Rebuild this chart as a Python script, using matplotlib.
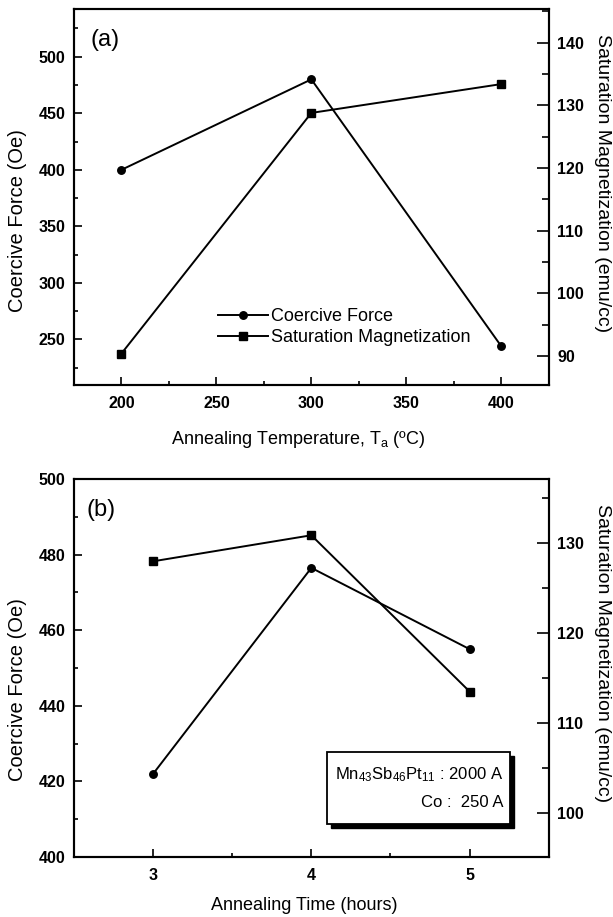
import matplotlib
matplotlib.use('Agg')
import matplotlib.pyplot as plt
from matplotlib.ticker import MultipleLocator
from matplotlib.lines import Line2D
from matplotlib.patches import Rectangle

plt.rcParams['font.family'] = ['Liberation Sans', 'DejaVu Sans']
plt.rcParams['mathtext.fontset'] = 'custom'
plt.rcParams['mathtext.rm'] = 'Liberation Sans'
plt.rcParams['mathtext.it'] = 'Liberation Sans'

# (a) annealing temperature series
temp = [200, 300, 400]
hc_temp = [400, 480, 244]
ms_temp = [90.4, 128.8, 133.4]

# (b) annealing time series
hours = [3, 4, 5]
hc_time = [422, 476.5, 455]
ms_time = [128, 130.9, 113.5]

LW = 1.4
MS = 5.4


def style_axes(ax, ax2):
    for a in (ax, ax2):
        for s in a.spines.values():
            s.set_linewidth(1.5)
    ax.tick_params(axis='both', which='both', direction='in', top=False, right=False,
                   labelsize=11.5, width=1.2, pad=6)
    ax.tick_params(which='major', length=6)
    ax.tick_params(which='minor', length=3)
    ax.tick_params(axis='x', pad=8)
    ax2.tick_params(axis='y', which='both', direction='in', labelsize=11.5, width=1.2, pad=6)
    ax2.tick_params(axis='y', which='major', length=9)
    ax2.tick_params(axis='y', which='minor', length=5)
    for lab in ax.get_xticklabels() + ax.get_yticklabels() + ax2.get_yticklabels():
        lab.set_fontweight('bold')


fig = plt.figure(figsize=(6.13, 9.17), dpi=100)

# ---- panel (a)
ax = fig.add_axes([0.1207, 0.5801, 0.7744, 0.4104])
ax2 = ax.twinx()
ax.plot(temp, hc_temp, 'k-', marker='o', lw=LW, ms=MS)
ax2.plot(temp, ms_temp, 'k-', marker='s', lw=LW, ms=MS)
ax.set_xlim(175, 425)
ax.set_ylim(209.6, 542.5)
ax2.set_ylim(85.37, 145.43)
ax.set_xticks([200, 250, 300, 350, 400])
ax.xaxis.set_minor_locator(MultipleLocator(25))
ax.set_yticks([250, 300, 350, 400, 450, 500])
ax.yaxis.set_minor_locator(MultipleLocator(25))
ax2.set_yticks([90, 100, 110, 120, 130, 140])
ax2.yaxis.set_minor_locator(MultipleLocator(5))
style_axes(ax, ax2)

ax.set_xlabel('Annealing Temperature, T$_{\\mathregular{a}}$ (ºC)', fontsize=13, va='center')
ax.xaxis.set_label_coords(0.473, -0.146)
ax.set_ylabel('Coercive Force (Oe)', fontsize=14.5, va='center', ha='center')
ax.yaxis.set_label_coords(-0.120, 0.437)
ax2.set_ylabel('Saturation Magnetization (emu/cc)', fontsize=14, rotation=-90,
               va='center', ha='center')
ax2.yaxis.set_label_coords(1.114, 0.538)
ax.text(0.034, 0.917, '(a)', transform=ax.transAxes, fontsize=17, va='center', ha='left')

handles = [Line2D([], [], color='k', marker='o', lw=LW, ms=MS),
           Line2D([], [], color='k', marker='s', lw=LW, ms=MS)]
ax2.legend(handles, ['Coercive Force', 'Saturation Magnetization'], loc='upper left',
           bbox_to_anchor=(0.303, 0.205), frameon=False, fontsize=13,
           handlelength=2.8, handletextpad=0.15, labelspacing=0.25,
           borderpad=0, borderaxespad=0)

# ---- panel (b)
bx = fig.add_axes([0.1207, 0.0654, 0.7744, 0.4122])
bx2 = bx.twinx()
bx.plot(hours, hc_time, 'k-', marker='o', lw=LW, ms=MS)
bx2.plot(hours, ms_time, 'k-', marker='s', lw=LW, ms=MS)
bx.set_xlim(2.5, 5.5)
bx.set_ylim(400, 500)
bx2.set_ylim(95.07, 137.16)
bx.set_xticks([3, 4, 5])
bx.xaxis.set_minor_locator(MultipleLocator(0.5))
bx.set_yticks([400, 420, 440, 460, 480, 500])
bx.yaxis.set_minor_locator(MultipleLocator(10))
bx2.set_yticks([100, 110, 120, 130])
bx2.yaxis.set_minor_locator(MultipleLocator(5))
style_axes(bx, bx2)

bx.set_xlabel('Annealing Time (hours)', fontsize=13, va='center')
bx.xaxis.set_label_coords(0.485, -0.127)
bx.set_ylabel('Coercive Force (Oe)', fontsize=14.5, va='center', ha='center')
bx.yaxis.set_label_coords(-0.120, 0.444)
bx2.set_ylabel('Saturation Magnetization (emu/cc)', fontsize=14, rotation=-90,
               va='center', ha='center')
bx2.yaxis.set_label_coords(1.114, 0.540)
bx.text(0.027, 0.918, '(b)', transform=bx.transAxes, fontsize=17, va='center', ha='left')

# sample stack box with drop shadow
bx.add_patch(Rectangle((0.542, 0.076), 0.385, 0.19, transform=bx.transAxes,
                       facecolor='k', edgecolor='k', zorder=4, clip_on=False))
bx.add_patch(Rectangle((0.533, 0.0873), 0.385, 0.1907, transform=bx.transAxes,
                       facecolor='white', edgecolor='k', lw=1.3, zorder=5, clip_on=False))
bx.text(0.904, 0.217, 'Mn$_{43}$Sb$_{46}$Pt$_{11}$ : 2000 A', transform=bx.transAxes,
        fontsize=12, ha='right', va='center', zorder=6)
bx.text(0.904, 0.143, 'Co :  250 A', transform=bx.transAxes,
        fontsize=12, ha='right', va='center', zorder=6)

plt.savefig('out.png', dpi=100)
